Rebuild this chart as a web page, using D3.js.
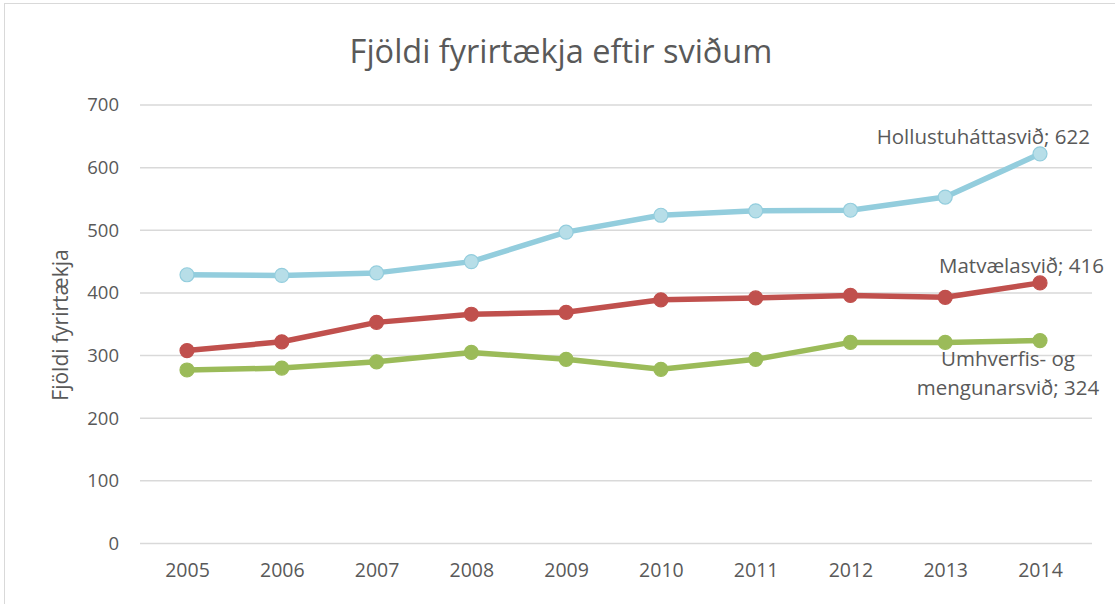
<!DOCTYPE html>
<html>
<head>
<script src="https://d3js.org/d3.v7.min.js"></script>
<style>
  body { margin: 0; background: #fff; }
  text { font-family: "Open Sans", sans-serif; fill: #595959; }
  .grid line { stroke: #d9d9d9; stroke-width: 1.5px; }
</style>
</head>
<body>
<script>
var years = [2005, 2006, 2007, 2008, 2009, 2010, 2011, 2012, 2013, 2014];
var hollustu = [429, 428, 432, 450, 497, 524, 531, 532, 553, 622];
var matvaela = [308, 322, 353, 366, 369, 389, 392, 396, 393, 416];
var umhverfis = [277, 280, 290, 305, 294, 278, 294, 321, 321, 324];
var yTicks = [0, 100, 200, 300, 400, 500, 600, 700];

var series = [
  { name: "Hollustuháttasvið", values: hollustu, line: "#93cddd", fill: "#b7dee8", label: ["Hollustuháttasvið; 622"] },
  { name: "Matvælasvið", values: matvaela, line: "#c0504d", fill: "#c0504d", label: ["Matvælasvið; 416"] },
  { name: "Umhverfis- og mengunarsvið", values: umhverfis, line: "#9bbb59", fill: "#9bbb59", label: ["Umhverfis- og", "mengunarsvið; 324"] }
];

var width = 1115, height = 604;
var svg = d3.select("body").append("svg")
    .attr("width", width)
    .attr("height", height);

// chart frame
svg.append("rect")
    .attr("x", 4.5).attr("y", 3.5)
    .attr("width", 1200).attr("height", 700)
    .attr("fill", "none")
    .attr("stroke", "#d9d9d9");

var x = d3.scalePoint().domain(years).range([187, 1040]);
var y = d3.scaleLinear().domain([0, 700]).range([543.5, 105]);

// gridlines
svg.append("g").attr("class", "grid")
  .selectAll("line")
  .data(yTicks)
  .enter().append("line")
    .attr("x1", 140).attr("x2", 1092)
    .attr("y1", function(d) { return y(d); })
    .attr("y2", function(d) { return y(d); });

var yAxis = svg.append("g")
    .attr("transform", "translate(120,0)")
    .call(d3.axisLeft(y).tickValues(yTicks).tickSize(0).tickPadding(1));
yAxis.select(".domain").remove();
yAxis.selectAll("text").style("font-size", "18.5px").attr("fill", "#595959");

var xAxis = svg.append("g")
    .attr("transform", "translate(0,555)")
    .call(d3.axisBottom(x).tickSize(0).tickPadding(8).tickFormat(d3.format("d")));
xAxis.select(".domain").remove();
xAxis.selectAll("text").style("font-size", "19.5px").attr("fill", "#595959");

// title
svg.append("text")
    .attr("x", 561).attr("y", 63)
    .attr("text-anchor", "middle")
    .style("font-size", "32.5px")
    .text("Fjöldi fyrirtækja eftir sviðum");

// y label
svg.append("text")
    .attr("transform", "translate(68,325) rotate(-90)")
    .attr("text-anchor", "middle")
    .style("font-size", "21px")
    .text("Fjöldi fyrirtækja");

var line = d3.line()
    .x(function(d, i) { return x(years[i]); })
    .y(function(d) { return y(d); });

series.forEach(function(s) {
  svg.append("path")
      .datum(s.values)
      .attr("d", line)
      .attr("fill", "none")
      .attr("stroke", s.line)
      .attr("stroke-width", 5.5)
      .attr("stroke-linejoin", "round");

  svg.selectAll(null)
      .data(s.values)
      .enter().append("circle")
      .attr("cx", function(d, i) { return x(years[i]); })
      .attr("cy", function(d) { return y(d); })
      .attr("r", 7)
      .attr("fill", s.fill)
      .attr("stroke", s.line)
      .attr("stroke-width", 1.2);
});

// data labels at last point
var lastX = x(years[years.length - 1]);
svg.append("text")
    .attr("x", lastX + 50).attr("y", y(hollustu[9]) - 10)
    .attr("text-anchor", "end")
    .style("font-size", "20.5px")
    .attr("fill", "#404040")
    .text(series[0].label[0]);

svg.append("text")
    .attr("x", lastX + 64).attr("y", y(matvaela[9]) - 10)
    .attr("text-anchor", "end")
    .style("font-size", "20.5px")
    .attr("fill", "#404040")
    .text(series[1].label[0]);

var lab = svg.append("text")
    .attr("text-anchor", "middle")
    .attr("fill", "#404040")
    .style("font-size", "20.5px");
lab.append("tspan").attr("x", lastX - 32).attr("y", y(umhverfis[9]) + 25).text(series[2].label[0]);
lab.append("tspan").attr("x", lastX - 32).attr("y", y(umhverfis[9]) + 54).text(series[2].label[1]);
</script>
</body>
</html>
